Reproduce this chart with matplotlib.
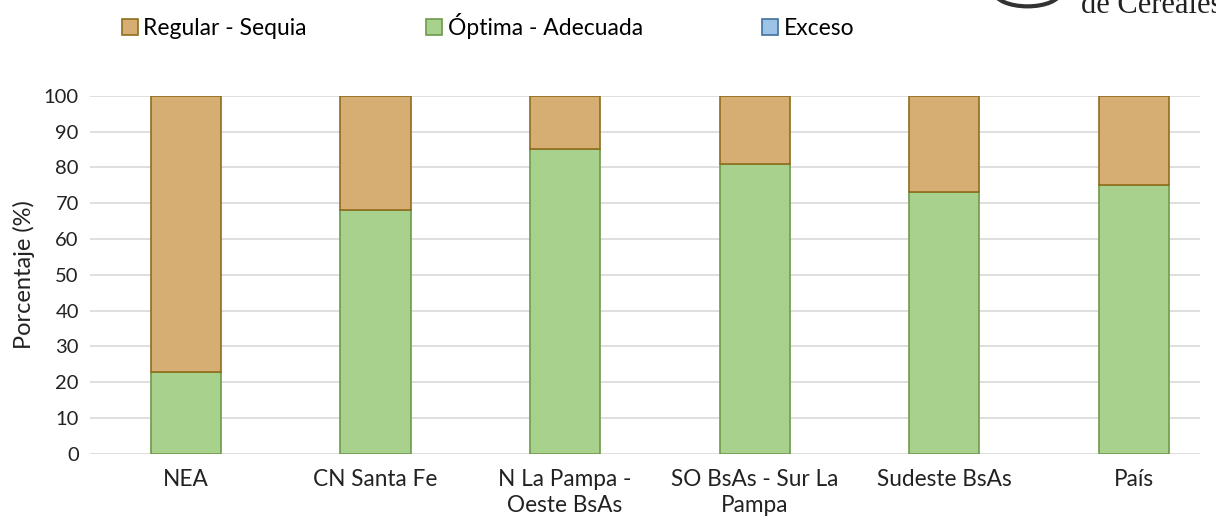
import matplotlib.pyplot as plt
import matplotlib.patches as mpatches
import numpy as np

regiones = ['NEA', 'CN Santa Fe', 'N La Pampa -\nOeste BsAs', 'SO BsAs - Sur La\nPampa',
            'Sudeste BsAs', 'País']
optima = [23, 68, 85, 81, 73, 75]
regular = [77, 32, 15, 19, 27, 25]
exceso = [0, 0, 0, 0, 0, 0]

plt.rcParams['font.family'] = ['Lato', 'DejaVu Sans']

fig = plt.figure(figsize=(12.16, 5.29), dpi=100)
ax = fig.add_axes([0.074, 0.142, 0.913, 0.677])

x = np.arange(len(regiones))
w = 0.37
ax.bar(x, optima, w, color='#a9d18e', edgecolor='#6f9a4a', linewidth=1.2, zorder=3)
ax.bar(x, regular, w, bottom=optima, color='#d6ad72', edgecolor='#8f6d1c', linewidth=1.2, zorder=3)
# exceso es cero en todas las regiones: solo se dibujan si hay valor
tope = np.array(optima) + np.array(regular)
for xi, e, t in zip(x, exceso, tope):
    if e > 0:
        ax.bar(xi, e, w, bottom=t, color='#9dc3e6', edgecolor='#41719c', linewidth=1.2, zorder=3)

ax.set_ylim(0, 100)
ax.set_xlim(-0.506, 5.35)
ax.set_yticks(range(0, 101, 10))
ax.yaxis.grid(True, color='#d9d9d9', linewidth=1.2, zorder=0)
ax.set_axisbelow(True)
for s in ax.spines.values():
    s.set_visible(False)
ax.tick_params(length=0, colors='#222222')
ax.tick_params(axis='y', pad=8, labelsize=14.5)
ax.tick_params(axis='x', pad=11, labelsize=16.3)
ax.set_xticks(x)
ax.set_xticklabels(regiones, linespacing=1.3)
ax.set_ylabel('Porcentaje (%)', fontsize=17, color='#222222', labelpad=6)

h_reg = mpatches.Patch(facecolor='#d6ad72', edgecolor='#8f6d1c', linewidth=1.2)
h_opt = mpatches.Patch(facecolor='#a9d18e', edgecolor='#6f9a4a', linewidth=1.2)
h_exc = mpatches.Patch(facecolor='#9dc3e6', edgecolor='#41719c', linewidth=1.2)
fig.legend([h_reg, h_opt, h_exc], ['Regular - Sequia', 'Óptima - Adecuada', 'Exceso'],
           loc='upper left', bbox_to_anchor=(0.083, 1.015), ncol=3, frameon=False,
           fontsize=16.5, handlelength=0.7, handleheight=0.7, handletextpad=0.25,
           columnspacing=5.2)

# logo recortado arriba a la derecha
fig.text(1.005, 0.99, 'de Cereales', fontsize=22, family='Liberation Serif',
         ha='right', va='center', color='#222222')
circ = plt.Circle((0.845, 1.015), 0.027, transform=fig.transFigure, fill=False,
                  edgecolor='#333333', linewidth=3, clip_on=False)
fig.patches.append(circ)

fig.savefig('out.png', dpi=100)
